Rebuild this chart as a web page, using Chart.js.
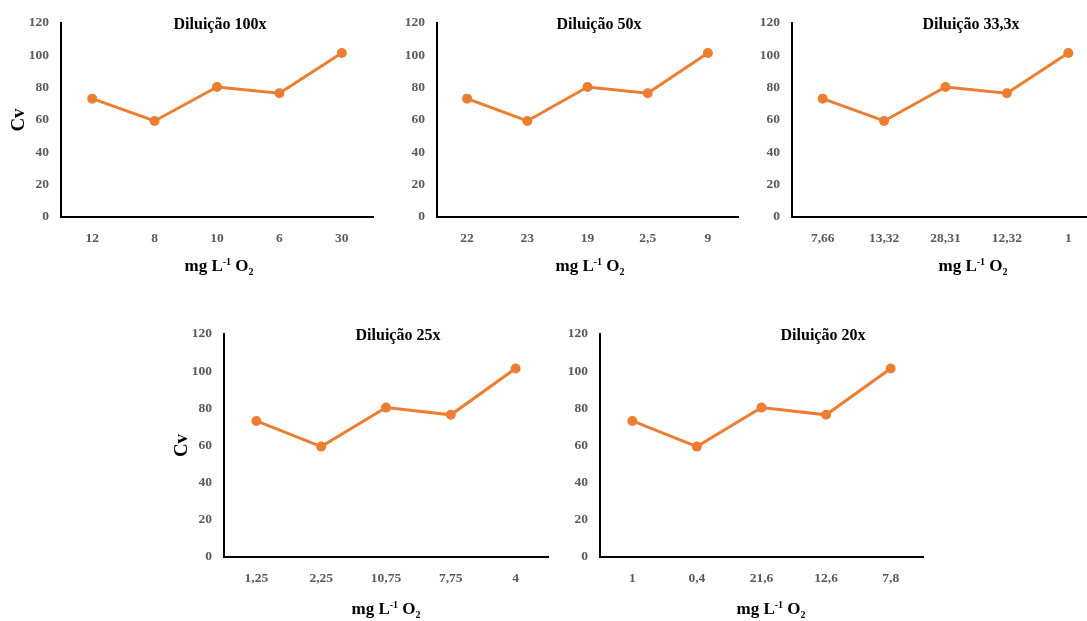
<!DOCTYPE html>
<html>
<head>
<meta charset="utf-8">
<script src="https://cdn.jsdelivr.net/npm/chart.js@4.4.1/dist/chart.umd.min.js"></script>
<style>
  body { margin: 0; background: #fff; width: 1087px; height: 621px; overflow: hidden; position: relative; }
  .box { position: absolute; }
</style>
</head>
<body>
<div class="box" id="b0"><canvas id="c0"></canvas></div>
<div class="box" id="b1"><canvas id="c1"></canvas></div>
<div class="box" id="b2"><canvas id="c2"></canvas></div>
<div class="box" id="b3"><canvas id="c3"></canvas></div>
<div class="box" id="b4"><canvas id="c4"></canvas></div>
<script>
// Data (same Cv series in every panel)
const titles = ['Diluição 100x', 'Diluição 50x', 'Diluição 33,3x', 'Diluição 25x', 'Diluição 20x'];
const labels100 = ['12', '8', '10', '6', '30'];
const labels50 = ['22', '23', '19', '2,5', '9'];
const labels33 = ['7,66', '13,32', '28,31', '12,32', '1'];
const labels25 = ['1,25', '2,25', '10,75', '7,75', '4'];
const labels20 = ['1', '0,4', '21,6', '12,6', '7,8'];
const cvValues = [73.2, 59.4, 80.4, 76.5, 101.4];
const yTicks = [0, 20, 40, 60, 80, 100, 120];

const categoryLists = [labels100, labels50, labels33, labels25, labels20];

// Plot-area placement on the page
const panels = [
    { plotL: 61,  plotR: 373,  plotT: 23,  plotB: 217, titleDx: 159, unitDx: 158, yTitle: true },
    { plotL: 437, plotR: 738,  plotT: 23,  plotB: 217, titleDx: 162, unitDx: 153, yTitle: false },
    { plotL: 792, plotR: 1099, plotT: 23,  plotB: 217, titleDx: 179, unitDx: 181, yTitle: false },
    { plotL: 224, plotR: 548,  plotT: 334, plotB: 557, titleDx: 174, unitDx: 162, yTitle: true },
    { plotL: 600, plotR: 923,  plotT: 334, plotB: 557, titleDx: 223, unitDx: 171, yTitle: false }
];

const SERIF = '"Liberation Serif", "Times New Roman", serif';
const LEFT_SPACE = 61, TOP_SPACE = 23, BOTTOM_SPACE = 62, RIGHT_SPACE = 20;

// Draws panel title, "Cv" and the "mg L-1 O2" axis title
const textPlugin = {
    id: 'textPlugin',
    afterDraw(chart, args, opts) {
        const { ctx, chartArea } = chart;
        ctx.save();
        ctx.fillStyle = '#000';
        ctx.textBaseline = 'middle';

        ctx.textAlign = 'center';
        ctx.font = 'bold 16px ' + SERIF;
        ctx.fillText(opts.title, chartArea.left + opts.titleDx, chartArea.top + 2);

        // x axis title with super/subscript
        const parts = [
            { t: 'mg L', size: 17, dy: 0 },
            { t: '-1', size: 10, dy: -5 },
            { t: ' O', size: 17, dy: 0 },
            { t: '2', size: 10, dy: 5 }
        ];
        let total = 0;
        parts.forEach(p => {
            ctx.font = 'bold ' + p.size + 'px ' + SERIF;
            p.w = ctx.measureText(p.t).width;
            total += p.w;
        });
        let x = chartArea.left + opts.unitDx - total / 2;
        const y = chartArea.bottom + opts.unitDy;
        ctx.textAlign = 'left';
        parts.forEach(p => {
            ctx.font = 'bold ' + p.size + 'px ' + SERIF;
            ctx.fillText(p.t, x, y + p.dy);
            x += p.w;
        });

        if (opts.yTitle) {
            ctx.translate(chartArea.left - 42, (chartArea.top + chartArea.bottom) / 2);
            ctx.rotate(-Math.PI / 2);
            ctx.textAlign = 'center';
            ctx.font = 'bold 19px ' + SERIF;
            ctx.fillText('Cv', 0, 0);
        }
        ctx.restore();
    }
};

function buildChart(i) {
    const p = panels[i];
    const box = document.getElementById('b' + i);
    const plotW = p.plotR - p.plotL;
    const plotH = p.plotB - p.plotT;
    box.style.left = (p.plotL - LEFT_SPACE) + 'px';
    box.style.top = (p.plotT - TOP_SPACE) + 'px';
    box.style.width = (LEFT_SPACE + plotW + RIGHT_SPACE) + 'px';
    box.style.height = (TOP_SPACE + plotH + BOTTOM_SPACE) + 'px';

    new Chart(document.getElementById('c' + i), {
        type: 'line',
        data: {
            labels: categoryLists[i],
            datasets: [{
                data: cvValues,
                borderColor: '#ED7D31',
                backgroundColor: '#ED7D31',
                borderWidth: 3,
                pointRadius: 3.5,
                pointHoverRadius: 3.5,
                tension: 0
            }]
        },
        options: {
            responsive: true,
            maintainAspectRatio: false,
            animation: false,
            layout: { padding: { top: TOP_SPACE, right: RIGHT_SPACE, left: 0, bottom: 0 } },
            scales: {
                x: {
                    offset: true,
                    grid: { display: false, drawTicks: false },
                    border: { display: true, color: '#000', width: 2 },
                    ticks: {
                        color: '#595959',
                        font: { family: SERIF, size: 13.5, weight: 'bold' },
                        padding: 13,
                        maxRotation: 0,
                        autoSkip: false
                    },
                    afterFit: s => { s.height = BOTTOM_SPACE; }
                },
                y: {
                    min: yTicks[0],
                    max: yTicks[yTicks.length - 1],
                    afterBuildTicks: s => { s.ticks = yTicks.map(v => ({ value: v })); },
                    grid: { display: false, drawTicks: false },
                    border: { display: true, color: '#000', width: 2 },
                    ticks: {
                        color: '#595959',
                        font: { family: SERIF, size: 13.5, weight: 'bold' },
                        padding: 12
                    },
                    afterFit: s => { s.width = LEFT_SPACE; }
                }
            },
            plugins: {
                legend: { display: false },
                tooltip: { enabled: false },
                textPlugin: {
                    title: titles[i],
                    titleDx: p.titleDx,
                    unitDx: p.unitDx,
                    unitDy: i < 3 ? 50 : 53,
                    yTitle: p.yTitle
                }
            }
        },
        plugins: [textPlugin]
    });
}

document.addEventListener('DOMContentLoaded', function() {
    for (let i = 0; i < panels.length; i++) buildChart(i);
});
</script>
</body>
</html>
